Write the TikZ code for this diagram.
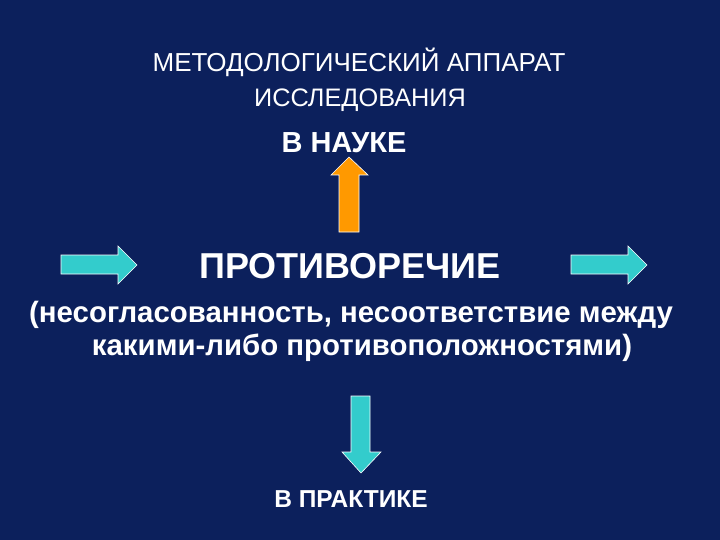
\documentclass[tikz,border=0pt]{standalone}
\usepackage{fontspec}
\setmainfont{Liberation Sans}
\definecolor{navybg}{RGB}{12,32,92}
\definecolor{arroworange}{RGB}{255,153,0}
\definecolor{arrowcyan}{RGB}{51,204,204}
\tikzset{
    blockarrow/.style={draw=white, line width=0.6pt, line join=miter},
    plaintext/.style={text=white, inner sep=0pt, anchor=base, font=\fontsize{26}{30}\selectfont},
    boldtext/.style={plaintext, font=\bfseries\fontsize{29}{32}\selectfont}
}
\begin{document}
\begin{tikzpicture}[x=1pt, y=-1pt]
    % Background of the slide
    \fill[navybg] (0,0) rectangle (720,540);
    \useasboundingbox (0,0) rectangle (720,540);

    % Title
    \node[plaintext] (title1) at (359,72) {МЕТОДОЛОГИЧЕСКИЙ АППАРАТ};
    \node[plaintext, font=\fontsize{25.3}{30}\selectfont] (title2) at (360,107) {ИССЛЕДОВАНИЯ};

    % Labels
    \node[boldtext] (science) at (344,153) {В НАУКЕ};
    \node[boldtext, font=\bfseries\fontsize{36}{40}\selectfont] (contra) at (350,278) {ПРОТИВОРЕЧИЕ};
    \node[boldtext, font=\bfseries\fontsize{29.4}{32}\selectfont] (expl1) at (351,322) {(несогласованность, несоответствие между};
    \node[boldtext, font=\bfseries\fontsize{29.4}{32}\selectfont] (expl2) at (362,355) {какими-либо противоположностями)};
    \node[boldtext, font=\bfseries\fontsize{24.5}{28}\selectfont] (practice) at (351,507) {В ПРАКТИКЕ};

    % Draw the arrows
    \filldraw[blockarrow, fill=arroworange] (339,232) -- (339,175) -- (331,175) -- (349,157)
        -- (368,175) -- (359,175) -- (359,232) -- cycle;
    \filldraw[blockarrow, fill=arrowcyan] (61,255) -- (118,255) -- (118,246) -- (137,265)
        -- (118,284) -- (118,274) -- (61,274) -- cycle;
    \filldraw[blockarrow, fill=arrowcyan] (571,255) -- (628,255) -- (628,246) -- (647,265)
        -- (628,284) -- (628,274) -- (571,274) -- cycle;
    \filldraw[blockarrow, fill=arrowcyan] (351,396) -- (370,396) -- (370,452) -- (381,452)
        -- (361,473) -- (342,452) -- (351,452) -- cycle;

\end{tikzpicture}
\end{document}
